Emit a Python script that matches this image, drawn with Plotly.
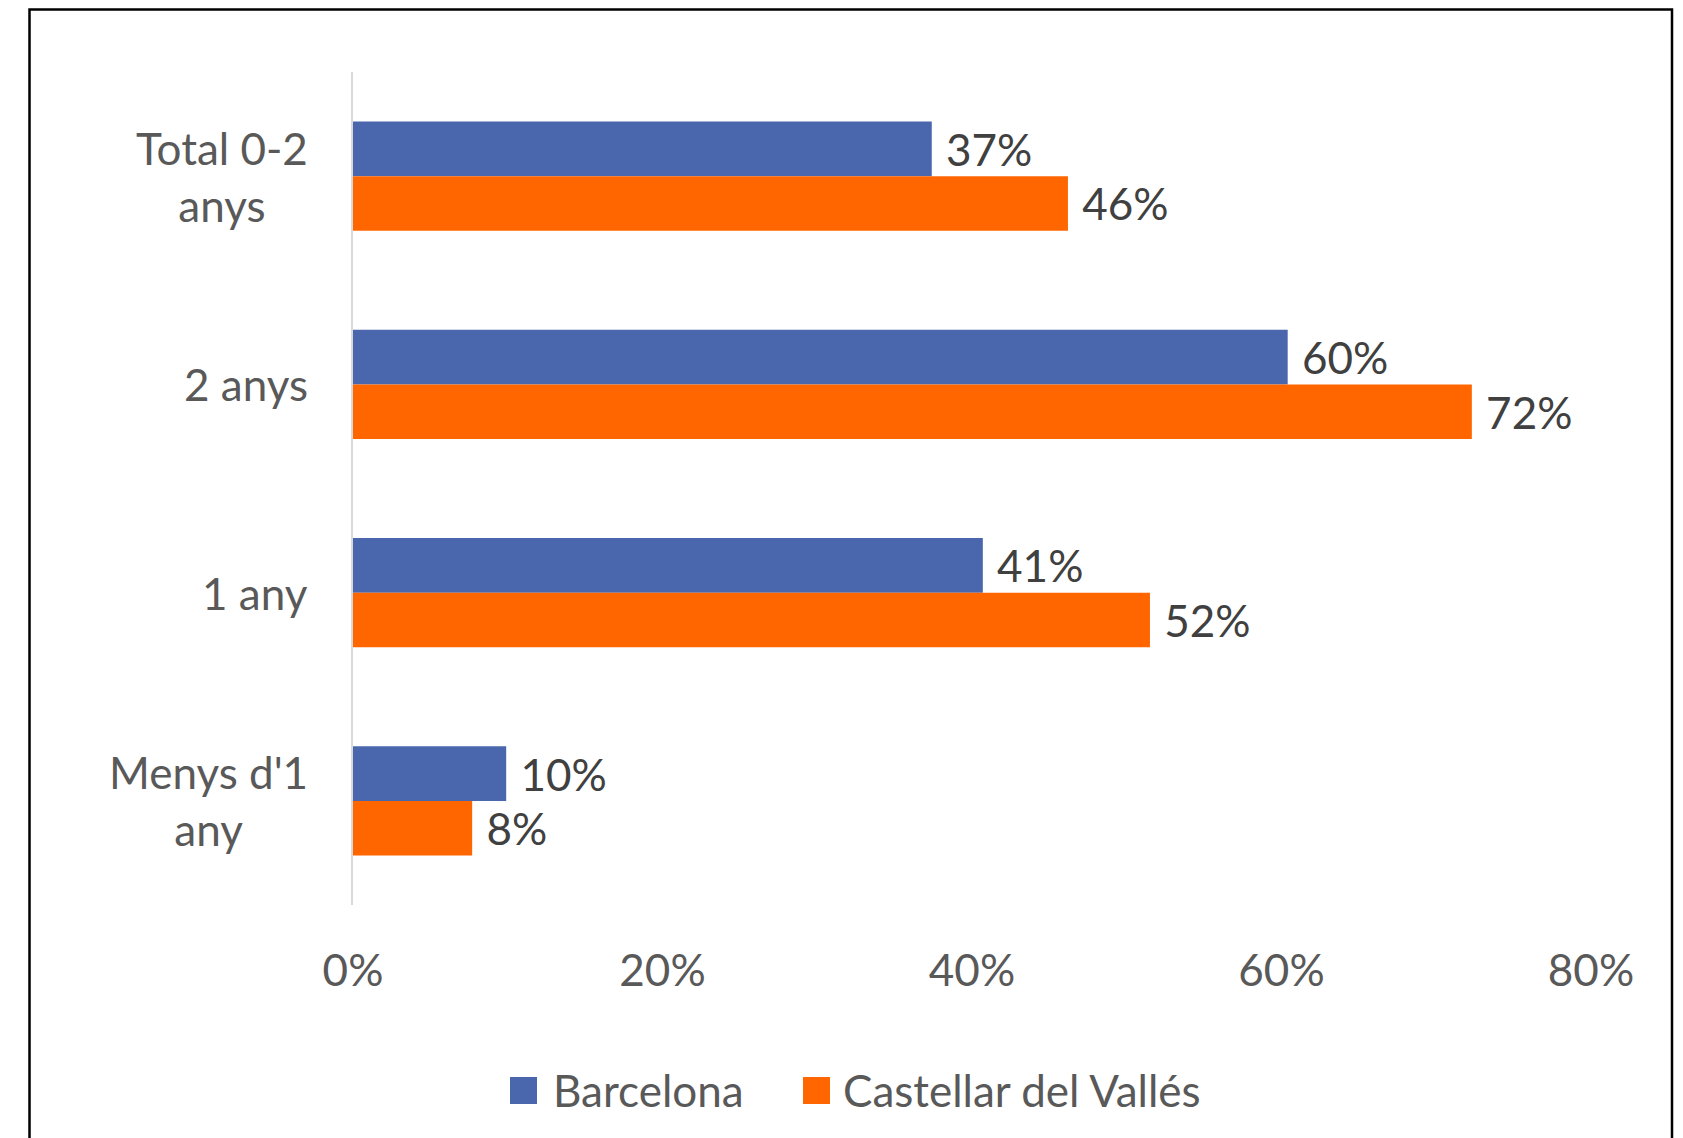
import plotly.graph_objects as go

categories = ["Total 0-2 anys", "2 anys", "1 any", "Menys d'1 any"]
category_labels = ["Total 0-2<br>anys", "2 anys", "1 any", "Menys d'1<br>any"]
barcelona = [0.374, 0.604, 0.407, 0.099]
castellar = [0.462, 0.723, 0.515, 0.077]
series_names = ["Barcelona", "Castellar del Vallés"]
series_colors = ["#4A66AC", "#FF6600"]
x_ticks = [0, 0.2, 0.4, 0.6, 0.8]

OFF = 8  # page body margin
W, H = 1683 - OFF, 1138 - OFF
PL, PR, PT, PB = 353 - OFF, 1591 - OFF, 72 - OFF, 905 - OFF  # plot area (figure px)


def px(x):
    return (x - OFF - PL) / (PR - PL)


def py(y):
    return (PB - (y - OFF)) / (PB - PT)


FONT = "Lato"
GRAY = "#595959"
DARK = "#404040"

fig = go.Figure()
for name, vals, col in zip(series_names, [barcelona, castellar], series_colors):
    fig.add_trace(go.Bar(
        y=categories, x=vals, name=name, orientation="h",
        marker=dict(color=col, line=dict(width=0)),
        texttemplate="\u00a0%{x:.0%}", textposition="outside",
        textfont=dict(family=FONT, size=44, color=DARK),
        constraintext="none", cliponaxis=False, showlegend=False,
        hoverinfo="skip",
    ))

# category labels (centered multi-line, right-aligned block)
for cat, lab in zip(categories, category_labels):
    fig.add_annotation(
        x=0, xref="paper", y=cat, yref="y", xanchor="right", xshift=-43,
        text=lab, showarrow=False, align="center",
        font=dict(family=FONT, size=44, color=GRAY),
    )

# legend (manual, Excel-like)
legend_items = [(510, 551), (803, 841)]
for (sx, tx), name, col in zip(legend_items, series_names, series_colors):
    fig.add_shape(type="rect", xref="paper", yref="paper",
                  x0=px(sx), x1=px(sx + 27), y0=py(1104), y1=py(1077),
                  fillcolor=col, line=dict(width=0))
    fig.add_annotation(x=px(tx), y=py(1090), xref="paper", yref="paper",
                       xanchor="left", yanchor="middle", text=name,
                       showarrow=False,
                       font=dict(family=FONT, size=44, color=GRAY))

# chart frame
fig.add_shape(type="rect", xref="paper", yref="paper",
              x0=px(29.5), x1=px(1672), y0=py(1150), y1=py(9.5),
              line=dict(color="black", width=2.5), fillcolor="rgba(0,0,0,0)",
              layer="below")

fig.update_layout(
    width=W, height=H,
    margin=dict(l=PL, r=W - PR, t=PT, b=H - PB, pad=0),
    paper_bgcolor="white", plot_bgcolor="white",
    barmode="group", bargap=0.476, bargroupgap=0,
    showlegend=False,
    font=dict(family=FONT, color=GRAY),
    xaxis=dict(range=[0, 0.8], tickvals=x_ticks, tickformat=".0%",
               showgrid=False, zeroline=False, showline=False,
               ticks="", ticklabelstandoff=36,
               tickfont=dict(family=FONT, size=44, color=GRAY)),
    yaxis=dict(categoryorder="array", categoryarray=categories,
               range=[3.5, -0.5], showticklabels=False, ticks="",
               showline=True, linecolor="#D9D9D9", linewidth=2,
               showgrid=False, zeroline=False),
)

fig.write_html("out.html")
